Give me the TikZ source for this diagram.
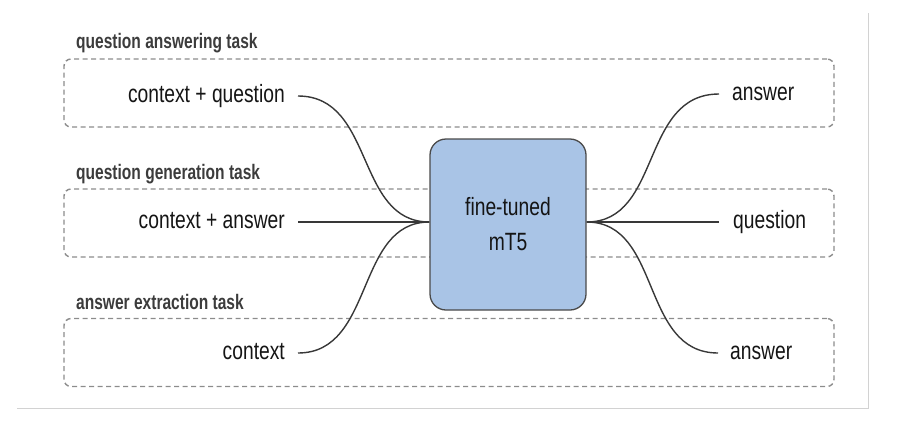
\documentclass[tikz,border=0pt]{standalone}
\usepackage{fontspec}
\setmainfont{Liberation Sans}
\newfontfamily\innerfont[FakeStretch=0.77]{Liberation Sans}
\newfontfamily\labelfont[FakeStretch=0.74]{Liberation Sans}
\definecolor{boxblue}{HTML}{A9C4E6}
\definecolor{boxedge}{HTML}{4A4A4A}
\definecolor{dashgray}{HTML}{8C8C8C}
\definecolor{framegray}{HTML}{D2D2D2}
\definecolor{txt}{HTML}{151515}
\definecolor{lbl}{HTML}{3C3C3C}
\tikzset{
  taskbox/.style={draw=dashgray, line width=1.4pt, dash pattern=on 5pt off 3.5pt, rounded corners=7pt, minimum width=770pt, minimum height=68pt, inner sep=0pt},
  tasklabel/.style={anchor=base west, inner sep=0pt, text=lbl, font=\labelfont\bfseries\fontsize{21}{23}\selectfont},
  itext/.style={inner sep=0pt, text=txt, font=\innerfont\fontsize{25}{28}\selectfont},
  model/.style={draw=boxedge, line width=1.3pt, fill=boxblue, rounded corners=16pt, minimum width=156pt, minimum height=171pt, align=center, text=txt, font=\innerfont\fontsize{25}{35}\selectfont},
  conn/.style={draw=txt!85, line width=1.4pt},
  frame/.style={draw=framegray, line width=1pt}
}
\begin{document}
\begin{tikzpicture}[x=1pt,y=-1pt]
\useasboundingbox (0,0) rectangle (919,424);
% outer frame lines
\coordinate (f1) at (868,13);
\coordinate (f2) at (868,408);
\coordinate (f3) at (17,408);
\draw[frame] (f1) -- (f2) -- (f3);
% task boxes
\node[taskbox] (tb1) at (449,93) {};
\node[taskbox] (tb2) at (449,223) {};
\node[taskbox] (tb3) at (449,352.5) {};
\node[tasklabel] (l1) at (76,48) {question answering task};
\node[tasklabel] (l2) at (76,179) {question generation task};
\node[tasklabel] (l3) at (76,309) {answer extraction task};
% model box
\node[model] (m) at (508,224.5) {fine-tuned\\mT5};
% inputs
\node[itext, anchor=mid east] (cq) at (285,100) {context + question};
\node[itext, anchor=mid east] (ca) at (285,226) {context + answer};
\node[itext, anchor=mid east] (c)  at (285,357) {context};
% outputs
\node[itext, anchor=mid west] (a1) at (732,98) {answer};
\node[itext, anchor=mid west] (q)  at (733,226) {question};
\node[itext, anchor=mid west] (a2) at (730,357) {answer};
% connector end points
\coordinate (min) at ([yshift=2.5pt]m.west);
\coordinate (mout) at ([yshift=2.5pt]m.east);
\draw[conn] ([xshift=13pt,yshift=4pt]cq.mid east) .. controls (375,96) and (355,222) .. (min);
\draw[conn] ([xshift=13pt,yshift=4pt]ca.mid east) -- (min);
\draw[conn] ([xshift=13pt,yshift=4pt]c.mid east) .. controls (375,353) and (355,222) .. (min);
\draw[conn] ([xshift=-13pt,yshift=4pt]a1.mid west) .. controls (640,94) and (662,222) .. (mout);
\draw[conn] ([xshift=-14pt,yshift=4pt]q.mid west) -- (mout);
\draw[conn] ([xshift=-12pt,yshift=4pt]a2.mid west) .. controls (640,353) and (662,222) .. (mout);
\end{tikzpicture}
\end{document}
